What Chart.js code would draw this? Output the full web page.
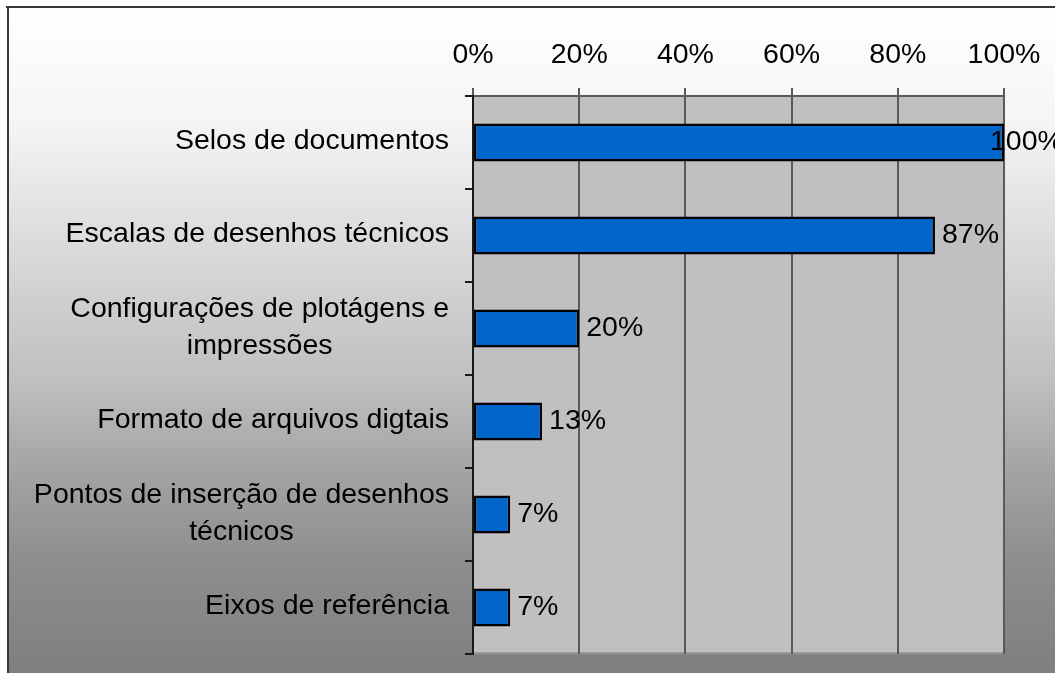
<!DOCTYPE html>
<html>
<head>
    <meta charset="utf-8">
    <title>Bar chart</title>
    <script src="https://cdn.jsdelivr.net/npm/chart.js"></script>
    <style>
        body { margin: 0; background: white; }
        canvas { display: block; }
    </style>
</head>
<body>
    <canvas id="chart" width="1055" height="673"></canvas>

    <script>
        // Data
        const categories = [
            ['Selos de documentos'],
            ['Escalas de desenhos técnicos'],
            ['Configurações de plotágens e', 'impressões'],
            ['Formato de arquivos digtais'],
            ['Pontos de inserção de desenhos', 'técnicos'],
            ['Eixos de referência']
        ];
        const values = [100, 87, 20, 13, 7, 7];
        const xTicks = [0, 20, 40, 60, 80, 100];

        const FONT = "'Liberation Sans', Arial, sans-serif";

        // page gradient, frame and plot background
        const backgroundPlugin = {
            id: 'background',
            beforeDraw(chart) {
                const ctx = chart.ctx;
                const a = chart.chartArea;
                ctx.save();
                ctx.fillStyle = '#ffffff';
                ctx.fillRect(0, 0, chart.width, chart.height);
                const g = ctx.createLinearGradient(0, 8, 0, chart.height);
                g.addColorStop(0, '#ffffff');
                g.addColorStop(0.17, '#f5f5f5');
                g.addColorStop(0.44, '#cfcfcf');
                g.addColorStop(0.55, '#c1c1c1');
                g.addColorStop(0.71, '#a1a1a1');
                g.addColorStop(0.83, '#8e8e8e');
                g.addColorStop(1, '#7f7f7f');
                ctx.fillStyle = g;
                ctx.fillRect(8, 8, chart.width - 8, chart.height - 8);
                ctx.fillStyle = '#383838';
                ctx.fillRect(6, 6, chart.width - 6, 2);
                ctx.fillRect(7, 6, 2, chart.height - 6);
                // plot area
                ctx.fillStyle = '#c0c0c0';
                ctx.fillRect(a.left, a.top, a.right - a.left, a.bottom - a.top);
                ctx.fillStyle = '#9a9a9a';
                ctx.fillRect(a.left, a.bottom - 2, a.right - a.left, 2);
                ctx.restore();
            }
        };

        // category labels: block right aligned, lines centred
        const categoryLabels = {
            id: 'categoryLabels',
            afterDraw(chart) {
                const ctx = chart.ctx;
                const y = chart.scales.y;
                const right = chart.chartArea.left - 24;
                const lh = 36.6;
                ctx.save();
                ctx.font = '28.5px ' + FONT;
                ctx.fillStyle = '#000';
                ctx.textBaseline = 'middle';
                ctx.textAlign = 'center';
                categories.forEach((lines, i) => {
                    const cy = y.getPixelForValue(i) - 1;
                    const w = Math.max(...lines.map(l => ctx.measureText(l).width));
                    const cx = right - w / 2;
                    lines.forEach((l, j) => {
                        ctx.fillText(l, cx, cy + (j - (lines.length - 1) / 2) * lh);
                    });
                });
                ctx.restore();
            }
        };

        // value labels right of bar ends
        const valueLabels = {
            id: 'valueLabels',
            afterDatasetsDraw(chart) {
                const ctx = chart.ctx;
                const meta = chart.getDatasetMeta(0);
                ctx.save();
                ctx.font = '28.5px ' + FONT;
                ctx.fillStyle = '#000';
                ctx.textBaseline = 'middle';
                ctx.textAlign = 'left';
                meta.data.forEach((bar, i) => {
                    const x = Math.min(bar.x + 7, chart.width - 65);
                    ctx.fillText(values[i] + '%', x, bar.y);
                });
                ctx.restore();
            }
        };

        new Chart(document.getElementById('chart'), {
            type: 'bar',
            data: {
                labels: categories,
                datasets: [{
                    data: values,
                    backgroundColor: '#0066cc',
                    borderColor: '#000000',
                    borderWidth: 2.5,
                    borderSkipped: false,
                    barPercentage: 0.41,
                    categoryPercentage: 1.0
                }]
            },
            options: {
                indexAxis: 'y',
                responsive: false,
                animation: false,
                layout: { padding: { left: 0, top: 0, right: 51, bottom: 19 } },
                plugins: {
                    legend: { display: false },
                    tooltip: { enabled: false }
                },
                scales: {
                    x: {
                        position: 'top',
                        min: 0,
                        max: 100,
                        afterBuildTicks: (s) => { s.ticks = xTicks.map(v => ({ value: v })); },
                        afterFit: (s) => {
                            s.height = 96;
                            s.paddingLeft = 0;
                            s.paddingRight = 0;
                        },
                        ticks: {
                            callback: (v) => v + '%',
                            color: '#000',
                            font: { family: FONT, size: 28.5 },
                            padding: 16,
                            maxRotation: 0
                        },
                        grid: {
                            color: '#5a5a5a',
                            lineWidth: 2,
                            tickLength: 8
                        },
                        border: { display: true, color: '#5a5a5a', width: 2 }
                    },
                    y: {
                        afterFit: (s) => { s.width = 473; },
                        ticks: { display: false },
                        grid: {
                            drawOnChartArea: false,
                            color: '#1a1a1a',
                            lineWidth: 2,
                            tickLength: 8
                        },
                        border: { display: true, color: '#1a1a1a', width: 2 }
                    }
                }
            },
            plugins: [backgroundPlugin, categoryLabels, valueLabels]
        });
    </script>
</body>
</html>
